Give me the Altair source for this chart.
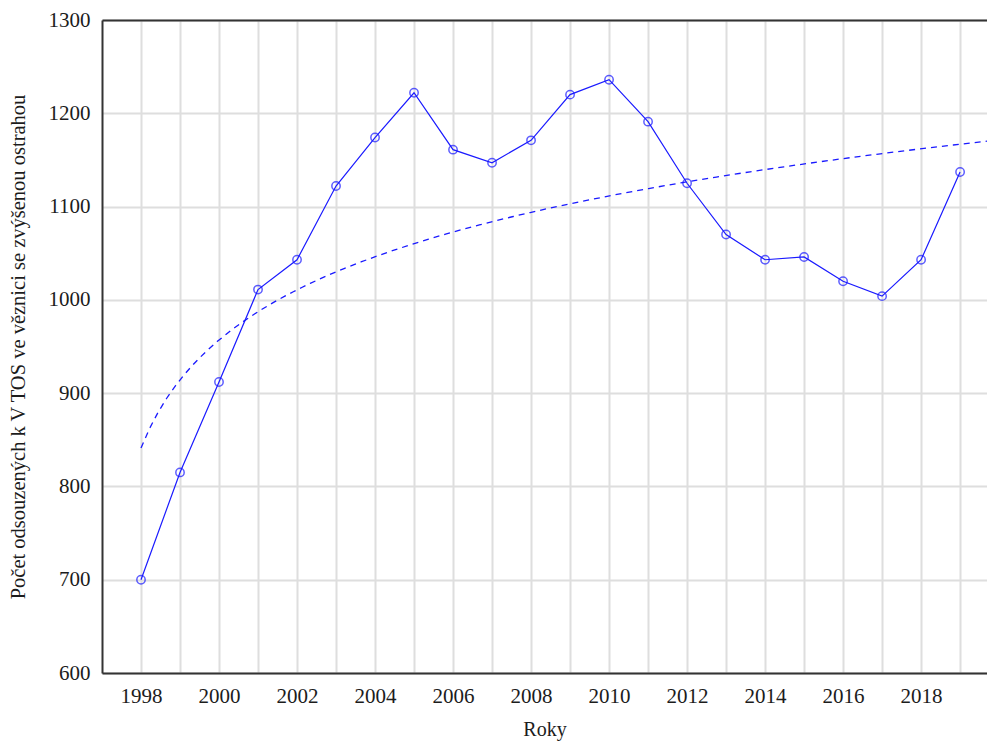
import altair as alt
import pandas as pd

years = list(range(1998, 2020))
values = [700, 815, 912, 1011, 1043, 1122, 1174, 1222, 1161, 1147, 1171,
          1220, 1236, 1191, 1125, 1070, 1043, 1046, 1020, 1004, 1043, 1137]
grid_years = list(range(1998, 2020))
y_ticks = [600, 700, 800, 900, 1000, 1100, 1200, 1300]

df = pd.DataFrame({"year": years, "value": values})
df["t"] = df["year"] - 1997

X0, X1 = 1997, 2019.69
FONT = "Liberation Serif"
BLUE = "#1a1aff"
TXT = "#1c1c1c"

xs = alt.Scale(domain=[X0, X1], nice=False, zero=False)
ys = alt.Scale(domain=[600, 1300], nice=False, zero=False)

base = alt.Chart(df)

line = base.mark_line(color=BLUE, strokeWidth=1.2).encode(
    x=alt.X("year:Q", scale=xs, title="Roky",
            axis=alt.Axis(orient="bottom", values=grid_years, format="d",
                          labelExpr="datum.value % 2 == 0 ? datum.label : ''",
                          grid=True, ticks=False, domain=True,
                          domainColor="#333333", domainWidth=2,
                          gridColor="#dedede", gridWidth=2,
                          labelFont=FONT, labelFontSize=21, labelColor=TXT,
                          labelPadding=12, labelFlush=False,
                          titleFont=FONT, titleFontSize=20, titleColor=TXT,
                          titleFontWeight="normal", titlePadding=13)),
    y=alt.Y("value:Q", scale=ys,
            title="Počet odsouzených k V TOS ve věznici se zvýšenou ostrahou",
            axis=alt.Axis(values=y_ticks, format="d", grid=True, ticks=False,
                          domain=True, domainColor="#333333", domainWidth=2,
                          gridColor="#dedede", gridWidth=2,
                          labelFont=FONT, labelFontSize=21, labelColor=TXT,
                          labelPadding=12, labelFlush=False,
                          titleFont=FONT, titleFontSize=20.5, titleColor=TXT,
                          titleFontWeight="normal", titlePadding=20)),
)

points = base.mark_point(shape="circle", filled=False, color=BLUE,
                         size=70, strokeWidth=1.5).encode(
    x=alt.X("year:Q", scale=xs, axis=None),
    y=alt.Y("value:Q", scale=ys),
)

trend = base.transform_regression(
    "t", "value", method="log", extent=[1, X1 - X0]
).transform_calculate(
    year="datum.t + 1997"
).mark_line(color=BLUE, strokeWidth=1.3, strokeDash=[6, 5]).encode(
    x=alt.X("year:Q", scale=xs,
            axis=alt.Axis(orient="top", labels=False, ticks=False, grid=False,
                          domain=True, domainColor="#333333", domainWidth=2,
                          title=None)),
    y=alt.Y("value:Q", scale=ys),
)

chart = alt.layer(line, points, trend).resolve_axis(x="independent").properties(
    width=885, height=653,
    autosize=alt.AutoSizeParams(type="none"),
    padding={"left": 94, "top": 12, "right": 0, "bottom": 70},
).configure_view(stroke=None).configure(background="white")

chart.save("out.html", embed_options={"renderer": "svg", "actions": False})
